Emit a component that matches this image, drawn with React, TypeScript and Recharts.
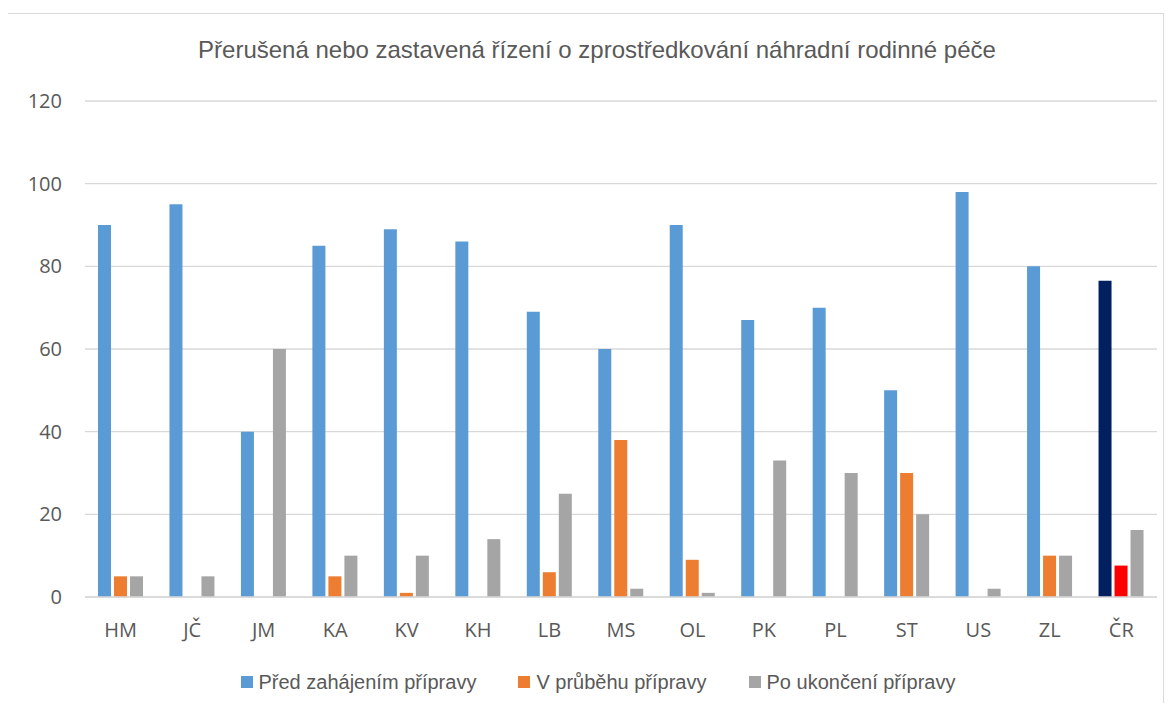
import { BarChart, Bar, XAxis, YAxis, CartesianGrid, Legend, Cell } from "recharts"

const regions = ["HM", "JČ", "JM", "KA", "KV", "KH", "LB", "MS", "OL", "PK", "PL", "ST", "US", "ZL", "ČR"]
const predZahajenim = [90, 95, 40, 85, 89, 86, 69, 60, 90, 67, 70, 50, 98, 80, 76.5]
const vPrubehu = [5, 0, 0, 5, 1, 0, 6, 38, 9, 0, 0, 30, 0, 10, 7.6]
const poUkonceni = [5, 5, 60, 10, 10, 14, 25, 2, 1, 33, 30, 20, 2, 10, 16.2]
const yTicks = [0, 20, 40, 60, 80, 100, 120]

const seriesNames = ["Před zahájením přípravy", "V průběhu přípravy", "Po ukončení přípravy"]
const COLORS = ["#5b9bd5", "#ed7d31", "#a5a5a5"]
const CR_COLORS = ["#002060", "#ff0000"]

const data = regions.map((name, i) => ({
  name,
  pred: predZahajenim[i],
  prubeh: vPrubehu[i],
  po: poUkonceni[i],
}))

const textColor = "#595959"

function LegendContent() {
  return (
    <div style={{ display: "flex", justifyContent: "center", height: 30, alignItems: "center", paddingLeft: 14, fontFamily: "'Liberation Sans Narrow', 'Liberation Sans', sans-serif", fontSize: 20, color: textColor }}>
      {seriesNames.map((n, i) => (
        <div key={n} style={{ display: "flex", alignItems: "center", marginRight: i < 2 ? 42 : 0 }}>
          <span style={{ width: 12, height: 12, background: COLORS[i], display: "inline-block", marginRight: 6 }} />
          <span>{n}</span>
        </div>
      ))}
    </div>
  )
}

export default function App() {
  return (
    <div style={{ position: "relative", width: 1176, height: 711, margin: -8, background: "#fff", overflow: "hidden" }}>
      <div style={{ position: "absolute", left: 7, top: 13, width: 1157, height: 720, border: "1.5px solid #d9d9d9", boxSizing: "border-box" }} />
      <div style={{ position: "absolute", left: 0, top: 36, width: 1194, textAlign: "center", fontFamily: "'Liberation Sans Narrow', 'Liberation Sans', sans-serif", fontSize: 24, color: textColor }}>
        Přerušená nebo zastavená řízení o zprostředkování náhradní rodinné péče
      </div>
      <div style={{ position: "absolute", left: 0, top: 0 }}>
        <BarChart
          width={1176}
          height={711}
          data={data}
          margin={{ top: 101, right: 19, left: 25, bottom: 44 }}
          barSize={13}
          barGap={3}
        >
          <CartesianGrid vertical={false} stroke="#d9d9d9" strokeWidth={1.3} />
          <XAxis
            dataKey="name"
            height={40}
            tickLine={false}
            axisLine={{ stroke: "#d9d9d9", strokeWidth: 1.3 }}
            tickMargin={20}
            tick={{ fill: textColor, fontSize: 20, fontFamily: "'Open Sans', sans-serif" }}
          />
          <YAxis
            width={60}
            domain={[0, 120]}
            ticks={yTicks}
            tickLine={false}
            axisLine={false}
            tickMargin={17}
            tick={{ fill: textColor, fontSize: 20, fontFamily: "'Open Sans', sans-serif" }}
          />
          <Legend verticalAlign="bottom" content={<LegendContent />} wrapperStyle={{ top: 667, bottom: "auto" }} />
          <Bar dataKey="pred" name={seriesNames[0]} fill={COLORS[0]} isAnimationActive={false}>
            {data.map((d, i) => (
              <Cell key={`p-${i}`} fill={d.name === "ČR" ? CR_COLORS[0] : COLORS[0]} />
            ))}
          </Bar>
          <Bar dataKey="prubeh" name={seriesNames[1]} fill={COLORS[1]} isAnimationActive={false}>
            {data.map((d, i) => (
              <Cell key={`v-${i}`} fill={d.name === "ČR" ? CR_COLORS[1] : COLORS[1]} />
            ))}
          </Bar>
          <Bar dataKey="po" name={seriesNames[2]} fill={COLORS[2]} isAnimationActive={false} />
        </BarChart>
      </div>
    </div>
  )
}
